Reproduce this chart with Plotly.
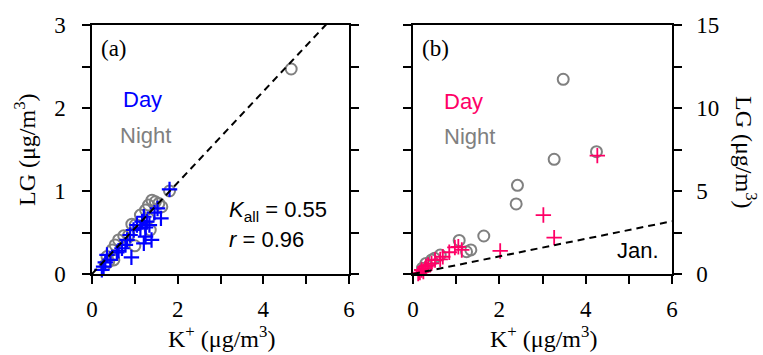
import plotly.graph_objects as go

# ---------------- data ----------------
# Panel (a)
a_day_x = [1.81, 1.53, 1.46, 1.61, 1.21, 1.28, 1.17, 1.05, 1.34, 1.25, 1.13, 0.97, 0.89,
           1.25, 1.39, 1.21, 0.82, 0.78, 0.70, 0.62, 0.92, 0.58, 0.35, 0.43, 0.31, 0.27, 0.23]
a_day_y = [1.02, 0.79, 0.74, 0.67, 0.69, 0.63, 0.63, 0.59, 0.59, 0.56, 0.55, 0.53, 0.47,
           0.45, 0.41, 0.37, 0.41, 0.35, 0.31, 0.28, 0.20, 0.26, 0.23, 0.17, 0.14, 0.09, 0.05]
a_night_x = [4.65, 1.81, 1.40, 1.48, 1.32, 1.56, 1.63, 1.25, 1.13, 0.93, 1.32, 1.36, 1.01,
             0.86, 0.74, 0.62, 1.00, 0.54, 0.47, 0.35, 0.51, 0.39, 0.31]
a_night_y = [2.47, 1.00, 0.89, 0.87, 0.83, 0.85, 0.81, 0.77, 0.71, 0.60, 0.67, 0.53, 0.59,
             0.47, 0.46, 0.41, 0.34, 0.35, 0.29, 0.21, 0.17, 0.15, 0.11]
a_slope = 0.55

# Panel (b)
b_day_x = [4.27, 3.02, 3.27, 2.02, 1.05, 1.13, 0.97, 0.84, 0.69, 0.63, 0.51, 0.43, 0.35,
           0.28, 0.20, 0.16, 0.12, 0.24, 0.30]
b_day_y = [7.13, 3.55, 2.19, 1.39, 1.64, 1.45, 1.60, 1.31, 1.04, 0.88, 0.84, 0.64, 0.54,
           0.34, 0.24, 0.08, 0.02, 0.15, 0.45]
b_night_x = [3.48, 4.25, 3.27, 2.42, 2.39, 1.64, 1.07, 1.34, 1.24, 0.63, 0.43, 0.30, 0.50, 0.22]
b_night_y = [11.73, 7.37, 6.91, 5.34, 4.22, 2.29, 2.02, 1.45, 1.34, 1.14, 0.84, 0.64, 0.95, 0.35]
b_slope = 0.53

x_line = [0, 6]

# ---------------- style ----------------
BLUE = "#0000FF"
PINK = "#FF0066"
GREY = "#808080"
SERIF = "Liberation Serif, Times New Roman, serif"
SANS = "Liberation Sans, Arial, sans-serif"

fig = go.Figure()

def add_panel(xa, ya, nx, ny, dx, dy, day_color, slope, cross_w):
    fig.add_trace(go.Scatter(x=nx, y=ny, mode="markers", xaxis=xa, yaxis=ya,
                             marker=dict(symbol="circle-open", size=11, color=GREY,
                                         line=dict(width=2, color=GREY)),
                             showlegend=False, cliponaxis=False))
    fig.add_trace(go.Scatter(x=dx, y=dy, mode="markers", xaxis=xa, yaxis=ya,
                             marker=dict(symbol="cross-thin-open", size=11, color=day_color,
                                         line=dict(width=cross_w, color=day_color)),
                             showlegend=False, cliponaxis=False))
    fig.add_trace(go.Scatter(x=x_line, y=[slope * v for v in x_line], mode="lines",
                             xaxis=xa, yaxis=ya,
                             line=dict(color="black", width=2, dash="7px,5px"),
                             showlegend=False))

add_panel("x", "y", a_night_x, a_night_y, a_day_x, a_day_y, BLUE, a_slope, 2.2)
add_panel("x2", "y2", b_night_x, b_night_y, b_day_x, b_day_y, PINK, b_slope, 1.8)

W, H = 763, 355
yd = [(H - 274) / H, (H - 25) / H]

axis_common = dict(showline=True, linecolor="black", linewidth=1.5, ticks="outside",
                   ticklen=8, tickwidth=1.5, tickcolor="black", showgrid=False,
                   zeroline=False, automargin=False,
                   tickfont=dict(family=SERIF, size=23, color="black"))
minor_common = dict(ticks="outside", ticklen=8, tickwidth=1.5, tickcolor="black")

fig.update_layout(
    width=W, height=H, margin=dict(l=0, r=0, t=0, b=0),
    paper_bgcolor="white", plot_bgcolor="white",
    xaxis=dict(domain=[92 / W, 349 / W], range=[0, 6], dtick=2, mirror=True,
               ticklabelstandoff=6,
               minor=dict(dtick=1, **minor_common), anchor="y", **axis_common),
    yaxis=dict(domain=yd, range=[0, 3], dtick=1, mirror="allticks",
               ticklabelstandoff=12,
               minor=dict(dtick=0.5, **minor_common), anchor="x", **axis_common),
    xaxis2=dict(domain=[413 / W, 672 / W], range=[0, 6], dtick=2, mirror=True,
                ticklabelstandoff=6,
                minor=dict(dtick=1, **minor_common), anchor="y2", **axis_common),
    yaxis2=dict(domain=yd, range=[0, 15], dtick=5, mirror="allticks", side="right",
                ticklabelstandoff=10,
                minor=dict(dtick=2.5, **minor_common), anchor="x2", **axis_common),
)

def ann(text, x, y, xref, yref, size, color="black", family=SANS, xanchor="left",
        yanchor="middle", angle=0):
    fig.add_annotation(text=text, x=x, y=y, xref=xref, yref=yref, showarrow=False,
                       font=dict(family=family, size=size, color=color),
                       xanchor=xanchor, yanchor=yanchor, textangle=angle)

# panel texts
ann("(a)", 0.17, 2.72, "x", "y", 23, family=SERIF)
ann("Day", 0.68, 2.1, "x", "y", 22, color=BLUE)
ann("Night", 0.6, 1.67, "x", "y", 22, color=GREY)
ann("<i>K</i><sub>all</sub> = 0.55", 3.15, 0.76, "x", "y", 22)
ann("<i>r</i> = 0.96", 3.15, 0.42, "x", "y", 22)

ann("(b)", 0.17, 13.6, "x2", "y2", 23, family=SERIF)
ann("Day", 0.68, 10.4, "x2", "y2", 22, color=PINK)
ann("Night", 0.68, 8.3, "x2", "y2", 22, color=GREY)
ann("Jan.", 4.68, 1.4, "x2", "y2", 22)

# axis titles
ann("K<sup>+</sup> (μg/m<sup>3</sup>)", 221 / W, 0.002, "paper", "paper", 24,
    family=SERIF, xanchor="center", yanchor="bottom")
ann("K<sup>+</sup> (μg/m<sup>3</sup>)", 543 / W, 0.002, "paper", "paper", 24,
    family=SERIF, xanchor="center", yanchor="bottom")
ann("LG (μg/m<sup>3</sup>)", 25 / W, (H - 150) / H, "paper", "paper", 24,
    family=SERIF, xanchor="center", angle=-90)
ann("LG (μg/m<sup>3</sup>)", 746 / W, (H - 152) / H, "paper", "paper", 24,
    family=SERIF, xanchor="center", angle=90)

fig.write_html("out.html")
